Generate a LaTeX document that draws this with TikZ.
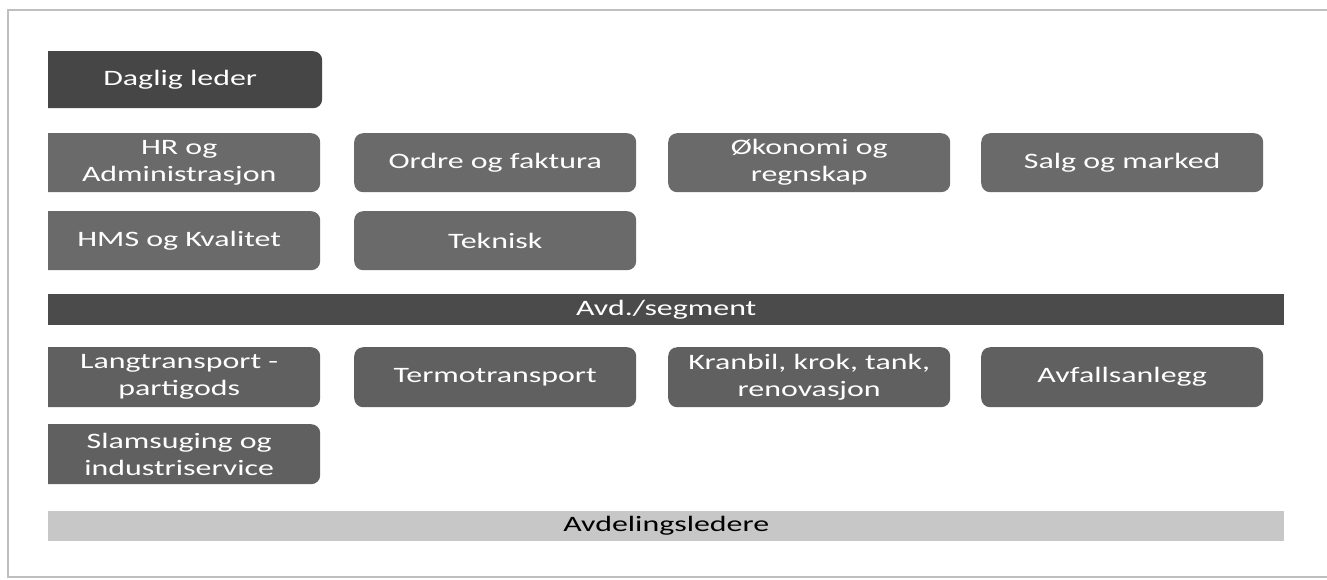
\documentclass[tikz,border=0pt]{standalone}
\usepackage{fontspec}
\setmainfont[FakeStretch=1.45]{Carlito}
\definecolor{ledergraa}{HTML}{464646}
\definecolor{stabgraa}{HTML}{6A6A6A}
\definecolor{avdgraa}{HTML}{606060}
\definecolor{segmentgraa}{HTML}{4B4B4B}
\definecolor{lysgraa}{HTML}{C7C7C7}
\begin{document}
\begin{tikzpicture}[x=1pt, y=-1pt,
    boks/.style={anchor=north west, rounded corners=9pt, minimum width=282pt,
        minimum height=59pt, inner sep=0pt, align=center, text=white,
        font=\fontsize{22}{27}\selectfont},
    bjelke/.style={anchor=north west, minimum width=1236pt, minimum height=31pt,
        inner sep=0pt, font=\fontsize{22}{27}\selectfont}]
    \useasboundingbox (0,0) rectangle (1327,579);
    % ramme
    \draw[gray!50, line width=1.5pt] (1327,10) -- (8,10) -- (8,577) -- (1327,577);
    \begin{scope}
        \clip (48,0) rectangle (1327,579);
        \node[boks, fill=ledergraa, minimum height=57pt, minimum width=284pt] (leder) at (38,51) {Daglig leder};
        % stab
        \foreach \navn/\x/\y/\tekst in {hr/38/133/{HR og\\Administrasjon}, ordre/354/133/Ordre og faktura,
                okonomi/668/133/{Økonomi og\\regnskap}, salg/981/133/Salg og marked,
                hms/38/211/HMS og Kvalitet, teknisk/354/211/Teknisk}
        {%
            \node[boks, fill=stabgraa] (\navn) at (\x,\y) {\tekst};
        }%
        \node[bjelke, fill=segmentgraa, text=white] (segment) at (48,294) {Avd./segment};
        % avdelinger
        \foreach \navn/\x/\y/\tekst in {lang/38/347/{Langtransport -\\partigods}, termo/354/347/Termotransport,
                kran/668/347/{Kranbil, krok, tank,\\renovasjon}, avfall/981/347/Avfallsanlegg,
                slam/38/424/{Slamsuging og\\industriservice}}
        {%
            \node[boks, fill=avdgraa, minimum height=60pt] (\navn) at (\x,\y) {\tekst};
        }%
        \node[bjelke, fill=lysgraa, minimum height=30pt] (ledere) at (48,511) {Avdelingsledere};
    \end{scope}
\end{tikzpicture}
\end{document}
